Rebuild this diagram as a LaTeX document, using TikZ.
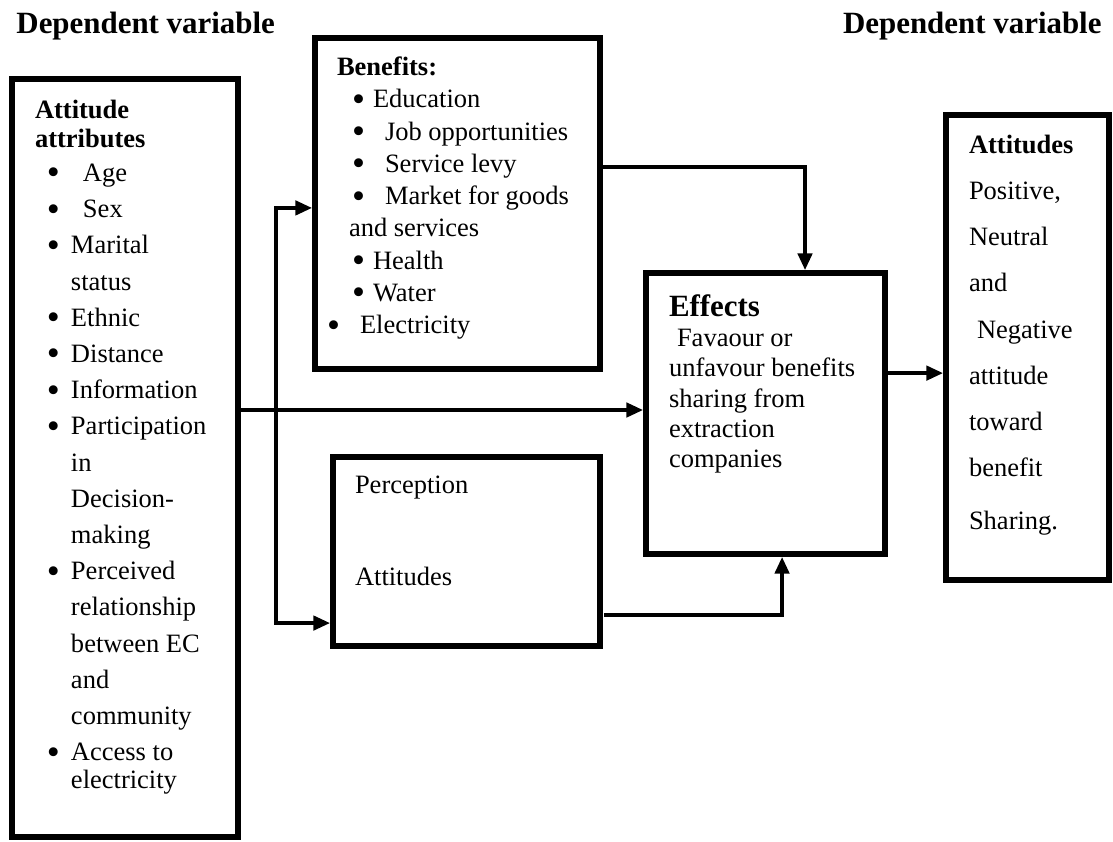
\documentclass[tikz,border=0pt]{standalone}
\usepackage{fontspec}
\setmainfont{Liberation Serif}
\usetikzlibrary{arrows.meta,positioning,fit}
\newlength\px
\setlength\px{0.4528pt}
\newcommand{\bigdot}{\raisebox{-0.13em}{\scalebox{1.4}{\textbullet}}}
\newcommand{\bitem}[3]{\makebox[#2\px][l]{\hspace*{#1\px}\bigdot}#3}
\newcommand{\cont}[2]{\hspace*{#1\px}#2}

\begin{document}
\begin{tikzpicture}[
    x=0.4528pt, y=-0.4528pt,
    box/.style={draw=black, line width=2.8pt, inner sep=0pt, outer sep=0pt},
    txt/.style={inner sep=0pt, outer sep=0pt, align=left, anchor=north west, font=\fontsize{12}{14.6}\selectfont},
    head/.style={inner sep=0pt, font=\fontsize{14}{16}\selectfont\bfseries},
    arr/.style={line width=1.5pt, -{Triangle[length=7.5pt,width=6.5pt]}, shorten >=1.4pt}
]
\useasboundingbox (0,0) rectangle (1113,841);

% headers
\node[head, anchor=base west] (hleft) at (16,33) {Dependent variable};
\node[head, anchor=base east] (hright) at (1102,33) {Dependent variable};

% boxes
\node[box, fit={(12.1,79.1) (237.9,836.9)}] (attr) {};
\node[box, fit={(315.1,38.1) (599.9,368.9)}] (ben) {};
\node[box, fit={(333.1,457.1) (599.9,645.9)}] (perc) {};
\node[box, fit={(646.1,273.1) (884.9,553.9)}] (eff) {};
\node[box, fit={(946.1,115.1) (1108.9,579.9)}] (att) {};

% box texts
\node[txt, font=\fontsize{12}{16.4}\selectfont] (attrtxt) at (35,100) {\textbf{Attitude}\\[-3.3pt]
  \textbf{attributes}\\[-1pt]
  \bitem{12}{48}{Age}\\
  \bitem{12}{48}{Sex}\\
  \bitem{12}{36}{Marital}\\
  \cont{36}{status}\\
  \bitem{12}{36}{Ethnic}\\
  \bitem{12}{36}{Distance}\\
  \bitem{12}{36}{Information}\\
  \bitem{12}{36}{Participation}\\
  \cont{36}{in}\\
  \cont{36}{Decision-}\\
  \cont{36}{making}\\
  \bitem{12}{36}{Perceived}\\
  \cont{36}{relationship}\\
  \cont{36}{between EC}\\
  \cont{36}{and}\\
  \cont{36}{community}\\
  \bitem{12}{36}{Access to}\\[-3.7pt]
  \cont{36}{electricity}};
\node[txt] (bentxt) at (326,57) {\cont{11}{\textbf{Benefits:}}\\
  \bitem{26}{47}{Education}\\
  \bitem{26}{59}{Job opportunities}\\
  \bitem{26}{59}{Service levy}\\
  \bitem{26}{59}{Market for goods}\\
  \cont{23}{and services}\\
  \bitem{26}{47}{Health}\\
  \bitem{26}{47}{Water}\\
  \bitem{1}{34}{Electricity}};
\node[txt, font=\fontsize{12}{13.8}\selectfont] (perctxt) at (355,475.5) {Perception\\[27.9pt]
  Attitudes};
\node[txt, font=\fontsize{12}{13.7}\selectfont] (efftxt) at (669,294.6) {{\fontsize{14}{16}\selectfont\bfseries Effects}\\
  \cont{8}{Favaour or}\\
  unfavour benefits\\
  sharing from\\
  extraction\\
  companies};
\node[txt, font=\fontsize{12}{20.9}\selectfont] (atttxt) at (969,135) {\textbf{Attitudes}\\
  Positive,\\
  Neutral\\
  and\\
  \cont{8}{Negative}\\
  attitude\\
  toward\\
  benefit\\[3.2pt]
  Sharing.};

% connectors
\coordinate (fork) at (276,410);
\draw[arr] (attr.east |- fork) -- (eff.west |- fork);
\draw[arr] (fork) |- ([yshift=-2pt]ben.west);
\draw[arr] (fork) |- ([yshift=-32.4pt]perc.west);
\draw[arr] ([yshift=16.5pt]ben.east) -| ([xshift=17.9pt]eff.north);
\draw[arr, shorten <=2pt] ([yshift=-28.8pt]perc.east) -| ([xshift=7.5pt]eff.south);
\draw[arr] ([yshift=18.3pt]eff.east) -- ([yshift=18.3pt]eff.east -| att.west);

\end{tikzpicture}
\end{document}
